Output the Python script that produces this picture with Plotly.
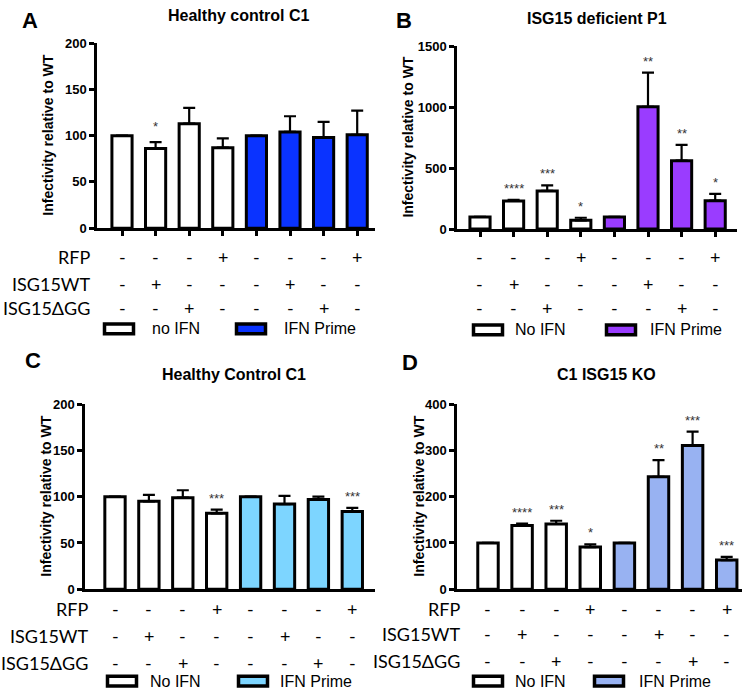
import plotly.graph_objects as go

# ---------------- data ----------------
x_idx = [0, 1, 2, 3, 4, 5, 6, 7]
rfp_row = ['-', '-', '-', '+', '-', '-', '-', '+']
wt_row = ['-', '+', '-', '-', '-', '+', '-', '-']
dgg_row = ['-', '-', '+', '-', '-', '-', '+', '-']
row_names = ['RFP', 'ISG15WT', 'ISG15\u0394GG']

a_mean = [100, 86, 113, 87, 100, 104, 98, 101]
a_sem = [0, 7, 17, 10, 0, 17, 17, 26]
a_stars = ['', '*', '', '', '', '', '', '']

b_mean = [100, 231, 313, 72, 100, 1003, 561, 233]
b_sem = [0, 9, 45, 21, 0, 280, 129, 56]
b_stars = ['', '****', '***', '*', '', '**', '**', '*']

c_mean = [100, 95, 99, 82, 100, 92, 97, 84]
c_sem = [0, 7, 8, 4, 0, 9, 3, 4]
c_stars = ['', '', '', '***', '', '', '', '***']

d_mean = [100, 138, 141, 91, 100, 243, 311, 63]
d_sem = [0, 4, 7, 6, 0, 36, 30, 7]
d_stars = ['', '****', '***', '*', '', '**', '***', '***']

titles = ['Healthy control C1', 'ISG15 deficient P1', 'Healthy Control C1', 'C1 ISG15 KO']
letters = ['A', 'B', 'C', 'D']
legend_names = [['no IFN', 'IFN Prime'], ['No IFN', 'IFN Prime'],
                ['No IFN', 'IFN Prime'], ['No IFN', 'IFN Prime']]
prime_colors = ['#0a33ff', '#9a3cff', '#7dd5ff', '#98b2f2']
y_ticks = [[0, 50, 100, 150, 200], [0, 500, 1000, 1500],
           [0, 50, 100, 150, 200], [0, 100, 200, 300, 400]]
y_title = 'Infectivity relative to WT'

# ---------------- layout geometry (pixels) ----------------
W, H = 750, 696
def fx(p):
    return p / W
def fy(p):
    return 1 - p / H

panels = [
    dict(mean=a_mean, sem=a_sem, stars=a_stars, ax='', x0=97, x1=375, yb=226, yt=37,
         c0=122, sp=33.6, xticks=True, rows=[256, 283, 308], lab_r=92,
         leg_y=329, leg=[103, 150, 235, 282], ytx=48, ttl=(238, 9), let=(30, 14), star_shift=6),
    dict(mean=b_mean, sem=b_sem, stars=b_stars, ax='2', x0=457, x1=737, yb=227, yt=40,
         c0=480, sp=33.6, xticks=True, rows=[256, 283, 308], lab_r=None,
         leg_y=330, leg=[472, 513, 605, 648], ytx=408, ttl=(597, 12), let=(404, 14), star_shift=2),
    dict(mean=c_mean, sem=c_sem, stars=c_stars, ax='3', x0=85, x1=375, yb=595, yt=406,
         c0=115, sp=33.9, xticks=False, rows=[615, 643, 670], lab_r=90,
         leg_y=689, leg=[106, 148, 237, 278], ytx=46, ttl=(234, 376), let=(33, 361), star_shift=2),
    dict(mean=d_mean, sem=d_sem, stars=d_stars, ax='4', x0=457, x1=742, yb=595, yt=406,
         c0=488, sp=34.1, xticks=False, rows=[615, 641, 668], lab_r=462,
         leg_y=689, leg=[472, 513, 593, 637], ytx=419, ttl=(606, 376), let=(410, 363), star_shift=2),
]

NUM_FONT = 'Liberation Sans, Arial, sans-serif'
ROW_FONT = 'Lato, Liberation Sans, sans-serif'

fig = go.Figure()
annotations = []
shapes = []

for k, p in enumerate(panels):
    colors = ['white'] * 4 + [prime_colors[k]] * 4
    fig.add_trace(go.Bar(
        x=x_idx, y=p['mean'], width=0.6,
        marker=dict(color=colors, line=dict(color='black', width=3)),
        error_y=dict(type='data', array=p['sem'], arrayminus=[0] * 8, symmetric=False,
                     color='black', thickness=2.2, width=6),
        xaxis='x' + p['ax'], yaxis='y' + p['ax'], showlegend=False, hoverinfo='skip',
    ))
    left = (p['x0'] - p['c0']) / p['sp']
    right = left + (p['x1'] - p['x0']) / p['sp']
    yt = y_ticks[k]
    xa = dict(domain=[fx(p['x0']), fx(p['x1'])], range=[left, right],
              showgrid=False, zeroline=False, showline=True, linecolor='black', linewidth=2.5,
              tickvals=x_idx, showticklabels=False,
              ticks='outside' if p['xticks'] else '', ticklen=5, tickwidth=2.5, tickcolor='black',
              anchor='y' + p['ax'], fixedrange=True)
    ya = dict(domain=[fy(p['yb']), fy(p['yt'])], range=[0, yt[-1]],
              showgrid=False, zeroline=False, showline=True, linecolor='black', linewidth=2.5,
              tickvals=yt, ticktext=[str(v) for v in yt],
              ticks='outside', ticklen=5, tickwidth=2.5, tickcolor='black',
              tickfont=dict(family=NUM_FONT, size=13, color='black', weight='bold'),
              anchor='x' + p['ax'], fixedrange=True)
    fig.update_layout(**{'xaxis' + p['ax']: xa, 'yaxis' + p['ax']: ya})

    # stars
    for i in x_idx:
        if p['stars'][i]:
            annotations.append(dict(
                x=i, y=p['mean'][i] + p['sem'][i], xref='x' + p['ax'], yref='y' + p['ax'],
                text=p['stars'][i], showarrow=False, yanchor='bottom', xanchor='center',
                yshift=p['star_shift'], font=dict(family=NUM_FONT, size=13, color='#333333')))

    # sign table rows
    for r, row in enumerate([rfp_row, wt_row, dgg_row]):
        ry = fy(p['rows'][r])
        for i in x_idx:
            annotations.append(dict(
                x=i, y=ry, xref='x' + p['ax'], yref='paper', text=row[i], showarrow=False,
                xanchor='center', yanchor='middle',
                font=dict(family=ROW_FONT, size=18, color='black')))
        if p['lab_r'] is not None:
            annotations.append(dict(
                x=fx(p['lab_r']), y=ry, xref='paper', yref='paper', text=row_names[r],
                showarrow=False, xanchor='right', yanchor='middle',
                font=dict(family=ROW_FONT, size=18, color='black')))

    # y title
    annotations.append(dict(
        x=fx(p['ytx']), y=fy((p['yb'] + p['yt']) / 2), xref='paper', yref='paper',
        text=y_title, textangle=-90, showarrow=False, xanchor='center', yanchor='middle',
        font=dict(family=NUM_FONT, size=14, color='black', weight='bold')))
    # title
    annotations.append(dict(
        x=fx(p['ttl'][0]), y=fy(p['ttl'][1]), xref='paper', yref='paper', text=titles[k],
        showarrow=False, xanchor='center', yanchor='middle',
        font=dict(family=NUM_FONT, size=16, color='black', weight='bold')))
    # panel letter
    annotations.append(dict(
        x=fx(p['let'][0]), y=fy(p['let'][1]), xref='paper', yref='paper', text=letters[k],
        showarrow=False, xanchor='center', yanchor='middle',
        font=dict(family=NUM_FONT, size=22, color='black', weight='bold')))

    # legend (boxes + labels)
    lx = p['leg']
    ly = p['leg_y']
    for j, (bx, tx) in enumerate([(lx[0], lx[1]), (lx[2], lx[3])]):
        shapes.append(dict(type='rect', xref='paper', yref='paper',
                           x0=fx(bx + 1.5), x1=fx(bx + 30.5), y0=fy(ly + 5), y1=fy(ly - 5),
                           line=dict(color='black', width=3.5),
                           fillcolor='white' if j == 0 else prime_colors[k]))
        annotations.append(dict(
            x=fx(tx), y=fy(ly), xref='paper', yref='paper', text=legend_names[k][j],
            showarrow=False, xanchor='left', yanchor='middle',
            font=dict(family=NUM_FONT, size=16, color='black')))

fig.update_layout(
    width=W, height=H, margin=dict(l=0, r=0, t=0, b=0),
    paper_bgcolor='white', plot_bgcolor='white',
    annotations=annotations, shapes=shapes, showlegend=False, bargap=0.4,
)

fig.write_html('out.html', config={'displayModeBar': False},
               post_script="document.body.style.margin='0';document.body.style.padding='0';")
